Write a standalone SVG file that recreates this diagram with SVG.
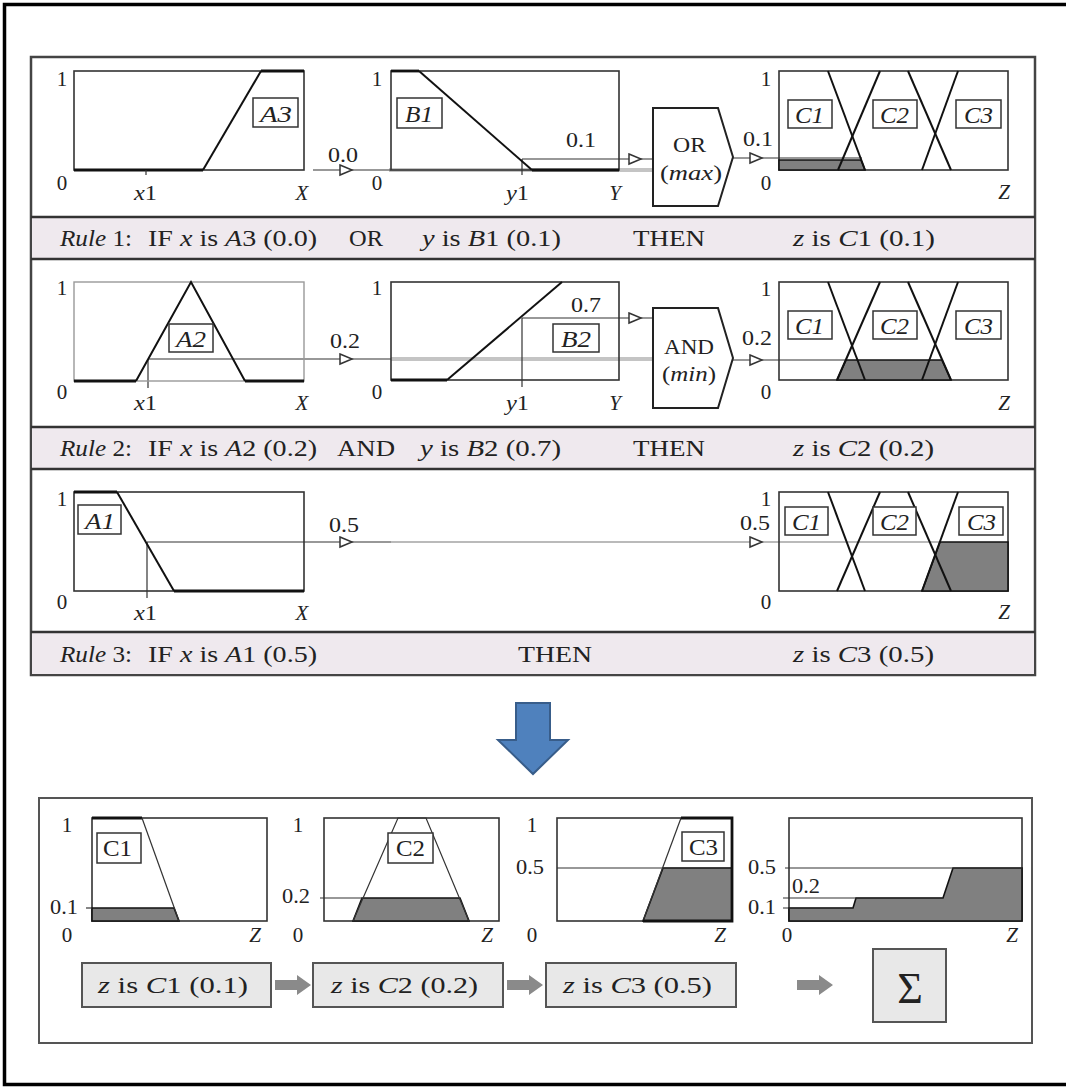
<svg xmlns="http://www.w3.org/2000/svg" width="1066" height="1088" viewBox="0 0 1066 1088" font-family="'Liberation Serif', serif">
<defs>
<style>
text{font-family:"Liberation Serif",serif;fill:#222;}
.ax{font-size:21px;}
.it{font-style:italic;}
.rt{font-size:24px;}
.lt{font-size:24px;}
.box{fill:none;stroke:#333;stroke-width:1.6;}
.boxl{fill:none;stroke:#999;stroke-width:1.4;}
.mf{fill:none;stroke:#111;stroke-width:2;}
.bold{fill:none;stroke:#111;stroke-width:2.8;}
.thin{fill:none;stroke:#333;stroke-width:1.2;}
.gray{fill:none;stroke:#c4c4c4;stroke-width:4;}
.lab{fill:#fff;stroke:#333;stroke-width:1.5;}
.shade{fill:#808080;stroke:#111;stroke-width:1.6;}
.bar{fill:#efe9ee;}
.sep{stroke:#333;stroke-width:2.5;}
.gate{fill:#fff;stroke:#222;stroke-width:2;}
.res{fill:#e8e8e8;stroke:#555;stroke-width:2;}
.garr{fill:#8a8a8a;}
</style>
<path id="ah" d="M-12,-5 L0,0 L-12,5 Z" fill="#fff" stroke="#333" stroke-width="1.5"/>
<path id="garrow" d="M0,-5 L22,-5 L22,-10 L36,0 L22,10 L22,5 L0,5 Z"/>
</defs>
<rect x="0" y="0" width="1066" height="1088" fill="#fff"/>
<rect x="4.5" y="4.5" width="1075" height="1080" fill="none" stroke="#000" stroke-width="3.5"/>

<!-- top panel -->
<g id="top-panel">
<rect x="31" y="57" width="1004" height="618" fill="#fff" stroke="#444" stroke-width="2.5"/>
<rect class="bar" x="32" y="217" width="1002" height="42"/>
<rect class="bar" x="32" y="427" width="1002" height="42"/>
<rect class="bar" x="32" y="632" width="1002" height="42"/>
<line class="sep" x1="31" y1="217" x2="1035" y2="217"/>
<line class="sep" x1="31" y1="259" x2="1035" y2="259"/>
<line class="sep" x1="31" y1="427" x2="1035" y2="427"/>
<line class="sep" x1="31" y1="469" x2="1035" y2="469"/>
<line class="sep" x1="31" y1="632" x2="1035" y2="632"/>
</g>

<!-- connectors -->
<g id="connectors">
<!-- rule 1 -->
<line class="gray" x1="389" y1="170" x2="652" y2="170"/>
<line class="thin" x1="313" y1="170" x2="391" y2="170"/>
<use href="#ah" x="352" y="170"/>
<line class="thin" x1="522" y1="159" x2="653" y2="159"/>
<line class="thin" x1="522" y1="159" x2="522" y2="175"/>
<use href="#ah" x="641" y="159"/>
<line class="thin" x1="733" y1="158" x2="862" y2="158"/>
<use href="#ah" x="762" y="158"/>
<!-- rule 2 -->
<line class="gray" x1="391" y1="359" x2="652" y2="359"/>
<line class="thin" x1="148" y1="359" x2="391" y2="359"/>
<line class="thin" x1="148" y1="359" x2="148" y2="388"/>
<use href="#ah" x="352" y="359"/>
<line class="thin" x1="522" y1="318" x2="653" y2="318"/>
<line class="thin" x1="522" y1="318" x2="522" y2="387"/>
<use href="#ah" x="641" y="318"/>
<line class="thin" x1="733" y1="360" x2="846" y2="360"/>
<use href="#ah" x="762" y="360"/>
<!-- rule 3 -->
<line class="thin" x1="147" y1="542" x2="391" y2="542"/>
<line fill="none" stroke="#777" stroke-width="1.2" x1="391" y1="542" x2="779" y2="542"/>
<line fill="none" stroke="#777" stroke-width="1.2" x1="779" y1="542" x2="940" y2="542"/>
<line class="thin" x1="147" y1="542" x2="147" y2="598"/>
<use href="#ah" x="352" y="542"/>
<use href="#ah" x="762" y="542"/>
</g>

<!-- Rule 1 charts -->
<g id="r1-A3">
<rect class="box" x="74" y="71" width="230" height="99"/>
<polyline class="bold" points="74,170 203,170"/>
<polyline class="mf" points="203,170 261,71"/>
<polyline class="bold" points="261,71 304,71"/>
<line class="thin" x1="146" y1="170" x2="146" y2="175"/>
<rect class="lab" x="253" y="98" width="45" height="29"/>
<text class="lt it" x="260" y="122" textLength="32" lengthAdjust="spacingAndGlyphs">A3</text>
<text class="ax" x="62" y="86" text-anchor="middle">1</text>
<text class="ax" x="62" y="190" text-anchor="middle">0</text>
<text class="ax" x="134" y="200" textLength="23" lengthAdjust="spacingAndGlyphs"><tspan class="it">x</tspan>1</text>
<text class="ax it" x="302" y="200" text-anchor="middle">X</text>
<text class="ax" x="328" y="162" textLength="30" lengthAdjust="spacingAndGlyphs">0.0</text>
</g>
<g id="r1-B1">
<rect class="box" x="391" y="71" width="228" height="99"/>
<polyline class="bold" points="391,71 419,71"/>
<polyline class="mf" points="419,71 532,170"/>
<polyline class="bold" points="532,170 619,170"/>
<rect class="lab" x="397" y="98" width="45" height="30"/>
<text class="lt it" x="405" y="122" textLength="28" lengthAdjust="spacingAndGlyphs">B1</text>
<text class="ax" x="377" y="86" text-anchor="middle">1</text>
<text class="ax" x="377" y="190" text-anchor="middle">0</text>
<text class="ax" x="506" y="200" textLength="23" lengthAdjust="spacingAndGlyphs"><tspan class="it">y</tspan>1</text>
<text class="ax it" x="615" y="200" text-anchor="middle">Y</text>
<text class="ax" x="566" y="147" textLength="30" lengthAdjust="spacingAndGlyphs">0.1</text>
</g>
<g id="r1-OR">
<polygon class="gate" points="653,108 718,108 733,157 718,206 653,206"/>
<text class="ax" x="673" y="152" textLength="33" lengthAdjust="spacingAndGlyphs">OR</text>
<text class="ax" x="660" y="180" textLength="62" lengthAdjust="spacingAndGlyphs">(<tspan class="it">max</tspan>)</text>
</g>
<g id="r1-C">
<rect class="box" x="779" y="71" width="229" height="99"/>
<polygon class="shade" points="779,160 861,160 865,170 779,170"/>
<line class="mf" x1="828" y1="71" x2="865" y2="170"/>
<line class="mf" x1="838" y1="170" x2="880" y2="71"/>
<line class="mf" x1="908" y1="71" x2="951" y2="170"/>
<line class="mf" x1="922" y1="170" x2="958" y2="71"/>
<rect class="lab" x="788" y="100" width="44" height="28"/>
<rect class="lab" x="873" y="100" width="44" height="28"/>
<rect class="lab" x="956" y="100" width="45" height="28"/>
<text class="lt it" x="795" y="123" textLength="29" lengthAdjust="spacingAndGlyphs">C1</text>
<text class="lt it" x="880" y="123" textLength="29" lengthAdjust="spacingAndGlyphs">C2</text>
<text class="lt it" x="964" y="123" textLength="29" lengthAdjust="spacingAndGlyphs">C3</text>
<text class="ax" x="766" y="86" text-anchor="middle">1</text>
<text class="ax" x="766" y="190" text-anchor="middle">0</text>
<text class="ax it" x="1004" y="199" text-anchor="middle">Z</text>
<text class="ax" x="743" y="146" textLength="30" lengthAdjust="spacingAndGlyphs">0.1</text>
</g>
<g id="r1-text" class="rt">
<text class="rt" x="60" y="246" textLength="72" lengthAdjust="spacingAndGlyphs"><tspan class="it">Rule</tspan> 1:</text>
<text class="rt" x="148" y="246" textLength="169" lengthAdjust="spacingAndGlyphs">IF <tspan class="it">x</tspan> is <tspan class="it">A</tspan>3 (0.0)</text>
<text class="rt" x="349" y="246" textLength="34" lengthAdjust="spacingAndGlyphs">OR</text>
<text class="rt" x="422" y="246" textLength="139" lengthAdjust="spacingAndGlyphs"><tspan class="it">y</tspan> is <tspan class="it">B</tspan>1 (0.1)</text>
<text class="rt" x="633" y="246" textLength="72" lengthAdjust="spacingAndGlyphs">THEN</text>
<text class="rt" x="793" y="246" textLength="142" lengthAdjust="spacingAndGlyphs"><tspan class="it">z</tspan> is <tspan class="it">C</tspan>1 (0.1)</text>
</g>

<!-- Rule 2 charts -->
<g id="r2-A2">
<rect class="boxl" x="74" y="282" width="230" height="99"/>
<polyline class="bold" points="74,381 136,381"/>
<polyline class="mf" points="136,381 191,282 245,381"/>
<polyline class="bold" points="245,381 304,381"/>
<rect class="lab" x="169" y="324" width="44" height="28"/>
<text class="lt it" x="176" y="347" textLength="30" lengthAdjust="spacingAndGlyphs">A2</text>
<text class="ax" x="62" y="295" text-anchor="middle">1</text>
<text class="ax" x="62" y="399" text-anchor="middle">0</text>
<text class="ax" x="134" y="410" textLength="23" lengthAdjust="spacingAndGlyphs"><tspan class="it">x</tspan>1</text>
<text class="ax it" x="302" y="410" text-anchor="middle">X</text>
<text class="ax" x="330" y="348" textLength="30" lengthAdjust="spacingAndGlyphs">0.2</text>
</g>
<g id="r2-B2">
<rect class="box" x="391" y="282" width="228" height="98"/>
<polyline class="bold" points="391,380 447,380"/>
<polyline class="mf" points="447,380 562,282"/>
<rect class="lab" x="553" y="324" width="46" height="28"/>
<text class="lt it" x="561" y="347" textLength="30" lengthAdjust="spacingAndGlyphs">B2</text>
<text class="ax" x="377" y="295" text-anchor="middle">1</text>
<text class="ax" x="377" y="399" text-anchor="middle">0</text>
<text class="ax" x="506" y="410" textLength="23" lengthAdjust="spacingAndGlyphs"><tspan class="it">y</tspan>1</text>
<text class="ax it" x="615" y="410" text-anchor="middle">Y</text>
<text class="ax" x="571" y="312" textLength="30" lengthAdjust="spacingAndGlyphs">0.7</text>
</g>
<g id="r2-AND">
<polygon class="gate" points="653,308 718,308 733,358 718,408 653,408"/>
<text class="ax" x="664" y="354" textLength="50" lengthAdjust="spacingAndGlyphs">AND</text>
<text class="ax" x="662" y="381" textLength="54" lengthAdjust="spacingAndGlyphs">(<tspan class="it">min</tspan>)</text>
</g>
<g id="r2-C">
<rect class="box" x="779" y="282" width="229" height="98"/>
<polygon class="shade" points="837,380 846,360 942,360 951,380"/>
<line class="mf" x1="828" y1="282" x2="865" y2="380"/>
<line class="mf" x1="837" y1="380" x2="880" y2="282"/>
<line class="mf" x1="908" y1="282" x2="951" y2="380"/>
<line class="mf" x1="922" y1="380" x2="958" y2="282"/>
<rect class="lab" x="788" y="311" width="44" height="28"/>
<rect class="lab" x="873" y="311" width="44" height="28"/>
<rect class="lab" x="956" y="311" width="45" height="28"/>
<text class="lt it" x="795" y="334" textLength="29" lengthAdjust="spacingAndGlyphs">C1</text>
<text class="lt it" x="880" y="334" textLength="29" lengthAdjust="spacingAndGlyphs">C2</text>
<text class="lt it" x="964" y="334" textLength="29" lengthAdjust="spacingAndGlyphs">C3</text>
<text class="ax" x="766" y="296" text-anchor="middle">1</text>
<text class="ax" x="766" y="399" text-anchor="middle">0</text>
<text class="ax it" x="1004" y="410" text-anchor="middle">Z</text>
<text class="ax" x="742" y="345" textLength="30" lengthAdjust="spacingAndGlyphs">0.2</text>
</g>
<g id="r2-text">
<text class="rt" x="60" y="456" textLength="72" lengthAdjust="spacingAndGlyphs"><tspan class="it">Rule</tspan> 2:</text>
<text class="rt" x="148" y="456" textLength="169" lengthAdjust="spacingAndGlyphs">IF <tspan class="it">x</tspan> is <tspan class="it">A</tspan>2 (0.2)</text>
<text class="rt" x="337" y="456" textLength="58" lengthAdjust="spacingAndGlyphs">AND</text>
<text class="rt" x="420" y="456" textLength="141" lengthAdjust="spacingAndGlyphs"><tspan class="it">y</tspan> is <tspan class="it">B</tspan>2 (0.7)</text>
<text class="rt" x="633" y="456" textLength="72" lengthAdjust="spacingAndGlyphs">THEN</text>
<text class="rt" x="793" y="456" textLength="141" lengthAdjust="spacingAndGlyphs"><tspan class="it">z</tspan> is <tspan class="it">C</tspan>2 (0.2)</text>
</g>

<!-- Rule 3 charts -->
<g id="r3-A1">
<rect class="box" x="74" y="492" width="230" height="99"/>
<polyline class="bold" points="74,492 117,492"/>
<polyline class="mf" points="117,492 174,591"/>
<polyline class="bold" points="174,591 304,591"/>
<rect class="lab" x="78" y="505" width="43" height="29"/>
<text class="lt it" x="85" y="529" textLength="30" lengthAdjust="spacingAndGlyphs">A1</text>
<text class="ax" x="62" y="506" text-anchor="middle">1</text>
<text class="ax" x="62" y="609" text-anchor="middle">0</text>
<text class="ax" x="134" y="620" textLength="23" lengthAdjust="spacingAndGlyphs"><tspan class="it">x</tspan>1</text>
<text class="ax it" x="302" y="620" text-anchor="middle">X</text>
<text class="ax" x="329" y="532" textLength="30" lengthAdjust="spacingAndGlyphs">0.5</text>
</g>
<g id="r3-C">
<rect class="box" x="779" y="492" width="229" height="99"/>
<polygon class="shade" points="922,591 940,542 1008,542 1008,591"/>
<line class="mf" x1="828" y1="492" x2="865" y2="591"/>
<line class="mf" x1="837" y1="591" x2="880" y2="492"/>
<line class="mf" x1="908" y1="492" x2="951" y2="591"/>
<line class="mf" x1="922" y1="591" x2="958" y2="492"/>
<rect class="lab" x="785" y="507" width="43" height="28"/>
<rect class="lab" x="873" y="507" width="43" height="28"/>
<rect class="lab" x="959" y="507" width="44" height="28"/>
<text class="lt it" x="792" y="530" textLength="29" lengthAdjust="spacingAndGlyphs">C1</text>
<text class="lt it" x="880" y="530" textLength="29" lengthAdjust="spacingAndGlyphs">C2</text>
<text class="lt it" x="967" y="530" textLength="29" lengthAdjust="spacingAndGlyphs">C3</text>
<text class="ax" x="766" y="506" text-anchor="middle">1</text>
<text class="ax" x="766" y="609" text-anchor="middle">0</text>
<text class="ax it" x="1004" y="619" text-anchor="middle">Z</text>
<text class="ax" x="740" y="530" textLength="30" lengthAdjust="spacingAndGlyphs">0.5</text>
</g>
<g id="r3-text">
<text class="rt" x="60" y="662" textLength="72" lengthAdjust="spacingAndGlyphs"><tspan class="it">Rule</tspan> 3:</text>
<text class="rt" x="148" y="662" textLength="169" lengthAdjust="spacingAndGlyphs">IF <tspan class="it">x</tspan> is <tspan class="it">A</tspan>1 (0.5)</text>
<text class="rt" x="518" y="662" textLength="74" lengthAdjust="spacingAndGlyphs">THEN</text>
<text class="rt" x="793" y="662" textLength="141" lengthAdjust="spacingAndGlyphs"><tspan class="it">z</tspan> is <tspan class="it">C</tspan>3 (0.5)</text>
</g>

<!-- big arrow -->
<g id="down-arrow">
<polygon points="516,703 550,703 550,740 568,740 533,774 498,740 516,740" fill="#4f81bd" stroke="#385d8a" stroke-width="2"/>
</g>

<!-- bottom panel -->
<g id="bottom-panel">
<rect x="39" y="798" width="993" height="245" fill="#fff" stroke="#555" stroke-width="2"/>
</g>
<g id="b-C1">
<rect class="box" x="92" y="818" width="175" height="103"/>
<polygon class="shade" points="92,908 174,908 179,921 92,921"/>
<polyline class="bold" points="92,818 142,818"/>
<polyline class="thin" points="142,818 179,921" stroke="#111" stroke-width="1.6"/>
<line class="thin" x1="86" y1="908" x2="92" y2="908"/>
<rect class="lab" x="97" y="833" width="44" height="30"/>
<text class="lt" x="103" y="856" textLength="29" lengthAdjust="spacingAndGlyphs">C1</text>
<text class="ax" x="67" y="832" text-anchor="middle">1</text>
<text class="ax" x="50" y="914" textLength="28" lengthAdjust="spacingAndGlyphs">0.1</text>
<text class="ax" x="67" y="942" text-anchor="middle">0</text>
<text class="ax it" x="255" y="942" text-anchor="middle">Z</text>
</g>
<g id="b-C2">
<rect class="box" x="324" y="818" width="175" height="103"/>
<polygon class="shade" points="353,921 362,898 460,898 469,921"/>
<polyline class="thin" points="353,921 398,818 426,818 469,921" stroke="#111" stroke-width="1.6"/>
<line class="thin" x1="320" y1="898" x2="362" y2="898" stroke="#111"/>
<rect class="lab" x="388" y="833" width="45" height="30"/>
<text class="lt" x="396" y="856" textLength="29" lengthAdjust="spacingAndGlyphs">C2</text>
<text class="ax" x="298" y="832" text-anchor="middle">1</text>
<text class="ax" x="282" y="903" textLength="28" lengthAdjust="spacingAndGlyphs">0.2</text>
<text class="ax" x="298" y="942" text-anchor="middle">0</text>
<text class="ax it" x="487" y="942" text-anchor="middle">Z</text>
</g>
<g id="b-C3">
<rect class="box" x="557" y="818" width="175" height="103"/>
<polygon class="shade" points="643,921 663,868 732,868 732,921"/>
<line class="thin" x1="557" y1="868" x2="732" y2="868" stroke="#111"/>
<polyline class="thin" points="643,921 681,818" stroke="#111" stroke-width="1.6"/>
<polyline class="bold" points="681,818 732,818 732,921 643,921"/>
<rect class="lab" x="682" y="832" width="42" height="29"/>
<text class="lt" x="689" y="855" textLength="29" lengthAdjust="spacingAndGlyphs">C3</text>
<text class="ax" x="532" y="832" text-anchor="middle">1</text>
<text class="ax" x="516" y="874" textLength="28" lengthAdjust="spacingAndGlyphs">0.5</text>
<text class="ax" x="532" y="942" text-anchor="middle">0</text>
<text class="ax it" x="720" y="942" text-anchor="middle">Z</text>
</g>
<g id="b-sum">
<rect class="box" x="789" y="818" width="233" height="103"/>
<polygon class="shade" points="789,921 789,908 853,908 856,898 943,898 953,868 1022,868 1022,921"/>
<line class="thin" x1="785" y1="868" x2="1022" y2="868" stroke="#111"/>
<line class="thin" x1="783" y1="898" x2="943" y2="898" stroke="#111"/>
<line class="thin" x1="783" y1="908" x2="853" y2="908" stroke="#111"/>
<text class="ax" x="748" y="874" textLength="28" lengthAdjust="spacingAndGlyphs">0.5</text>
<text class="ax" x="792" y="893" textLength="28" lengthAdjust="spacingAndGlyphs">0.2</text>
<text class="ax" x="748" y="914" textLength="28" lengthAdjust="spacingAndGlyphs">0.1</text>
<text class="ax" x="787" y="942" text-anchor="middle">0</text>
<text class="ax it" x="1012" y="942" text-anchor="middle">Z</text>
</g>
<g id="b-res1">
<rect class="res" x="82" y="963" width="189" height="44"/>
<text class="rt" x="98" y="993" textLength="150" lengthAdjust="spacingAndGlyphs"><tspan class="it">z</tspan> is <tspan class="it">C</tspan>1 (0.1)</text>
</g>
<g id="b-res2">
<rect class="res" x="313" y="963" width="190" height="44"/>
<text class="rt" x="331" y="993" textLength="147" lengthAdjust="spacingAndGlyphs"><tspan class="it">z</tspan> is <tspan class="it">C</tspan>2 (0.2)</text>
</g>
<g id="b-res3">
<rect class="res" x="546" y="963" width="190" height="44"/>
<text class="rt" x="563" y="993" textLength="149" lengthAdjust="spacingAndGlyphs"><tspan class="it">z</tspan> is <tspan class="it">C</tspan>3 (0.5)</text>
</g>
<g id="b-sigma">
<rect class="res" x="873" y="949" width="73" height="73"/>
<text x="910" y="1003" text-anchor="middle" font-size="44">Σ</text>
</g>
<g id="b-arrows" class="garr">
<use href="#garrow" x="275" y="985"/>
<use href="#garrow" x="507" y="985"/>
<use href="#garrow" x="797" y="985"/>
</g>
</svg>
